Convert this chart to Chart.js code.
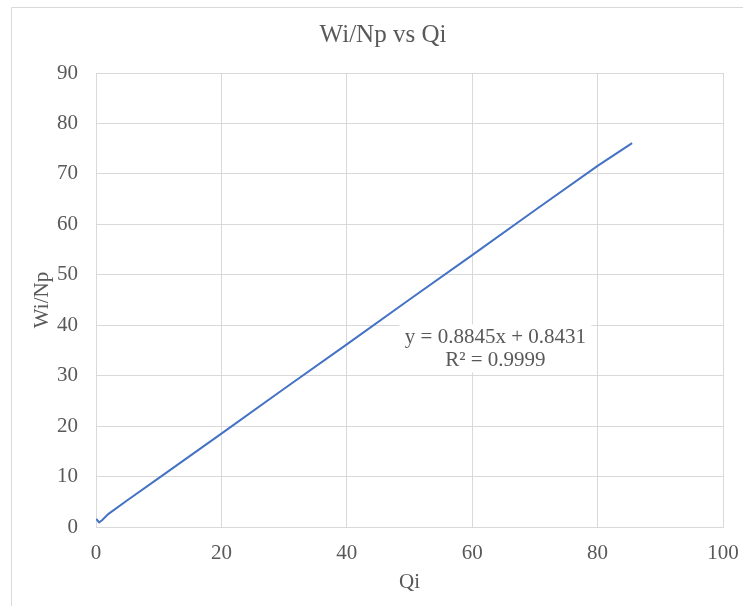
<!DOCTYPE html>
<html>
<head>
<meta charset="utf-8">
<script src="https://cdn.jsdelivr.net/npm/chart.js@4"></script>
<style>
  html, body { margin: 0; padding: 0; background: #fff; }
</style>
</head>
<body>
<canvas id="chart" width="743" height="606"></canvas>
<script>
// values
var qi   = [0.03, 0.5, 1.0, 2, 5, 10, 15, 20, 30, 40, 50, 60, 70, 80, 85.5];
var wiNp = [1.6, 0.9, 1.4, 2.6, 5.3, 9.7, 14.1, 18.5, 27.4, 36.2, 45.1, 53.9, 62.8, 71.6, 76.1];
var xTicks = [0, 20, 40, 60, 80, 100];
var yTicks = [0, 10, 20, 30, 40, 50, 60, 70, 80, 90];
var trendText = ['y = 0.8845x + 0.8431', 'R\u00b2 = 0.9999'];
var trendAt = { x: 63.7, y: 35.4 };

var color = {
    line: '#4472c4',
    grid: '#d9d9d9',
    text: '#595959'
};
var serif = '"Liberation Serif", "Times New Roman", serif';

var points = qi.map(function (q, i) { return { x: q, y: wiNp[i] }; });

var decor = {
    id: 'decor',
    beforeDraw: function (chart) {
        var c = chart.ctx;
        c.save();
        c.fillStyle = '#fff';
        c.fillRect(0, 0, chart.width, chart.height);
        c.strokeStyle = color.grid;
        c.lineWidth = 1;
        c.beginPath();
        c.moveTo(11.5, chart.height);
        c.lineTo(11.5, 7.5);
        c.lineTo(chart.width, 7.5);
        c.stroke();
        c.restore();
    },
    afterDraw: function (chart) {
        var c = chart.ctx;
        var xs = chart.scales.x, ys = chart.scales.y;
        c.save();
        // chart title
        c.fillStyle = color.text;
        c.font = '25px ' + serif;
        c.textAlign = 'center';
        c.textBaseline = 'alphabetic';
        c.fillText('Wi/Np vs Qi', 383, 42);
        // trendline label
        var cx = xs.getPixelForValue(trendAt.x);
        var cy = ys.getPixelForValue(trendAt.y);
        c.fillStyle = '#fff';
        c.fillRect(cx - 96, cy - 24, 192, 48);
        c.fillStyle = color.text;
        c.textBaseline = 'middle';
        c.font = '21px ' + serif;
        c.fillText(trendText[0], cx, cy - 11);
        c.fillText(trendText[1], cx, cy + 12);
        c.restore();
    }
};

var ctx = document.getElementById('chart').getContext('2d');
var chart = new Chart(ctx, {
    type: 'scatter',
    data: {
        datasets: [{
            label: 'Wi/Np',
            data: points,
            showLine: true,
            borderColor: color.line,
            backgroundColor: color.line,
            borderWidth: 2,
            pointRadius: 0,
            tension: 0
        }]
    },
    options: {
        responsive: false,
        animation: false,
        layout: { padding: { top: 73, right: 20, bottom: 0, left: 0 } },
        plugins: {
            legend: { display: false },
            title: { display: false },
            tooltip: { enabled: false }
        },
        scales: {
            x: {
                type: 'linear',
                min: 0,
                max: 100,
                afterBuildTicks: function (s) { s.ticks = xTicks.map(function (v) { return { value: v }; }); },
                afterFit: function (s) { s.height = 79; s.paddingLeft = 0; s.paddingRight = 0; },
                ticks: { color: color.text, font: { family: serif, size: 21 }, padding: 14, maxRotation: 0 },
                grid: { color: color.grid, drawTicks: false },
                border: { color: color.grid },
                title: { display: true, text: 'Qi', color: color.text, font: { family: serif, size: 21 }, padding: { top: 0, bottom: 11 } }
            },
            y: {
                type: 'linear',
                min: 0,
                max: 90,
                afterBuildTicks: function (s) { s.ticks = yTicks.map(function (v) { return { value: v }; }); },
                afterFit: function (s) { s.width = 96; s.paddingTop = 0; s.paddingBottom = 0; },
                ticks: { color: color.text, font: { family: serif, size: 21 }, padding: 18 },
                grid: { color: color.grid, drawTicks: false },
                border: { color: color.grid },
                title: { display: true, text: 'Wi/Np', color: color.text, font: { family: serif, size: 21 }, padding: { top: 30, bottom: 0 } }
            }
        }
    },
    plugins: [decor]
});
</script>
</body>
</html>
